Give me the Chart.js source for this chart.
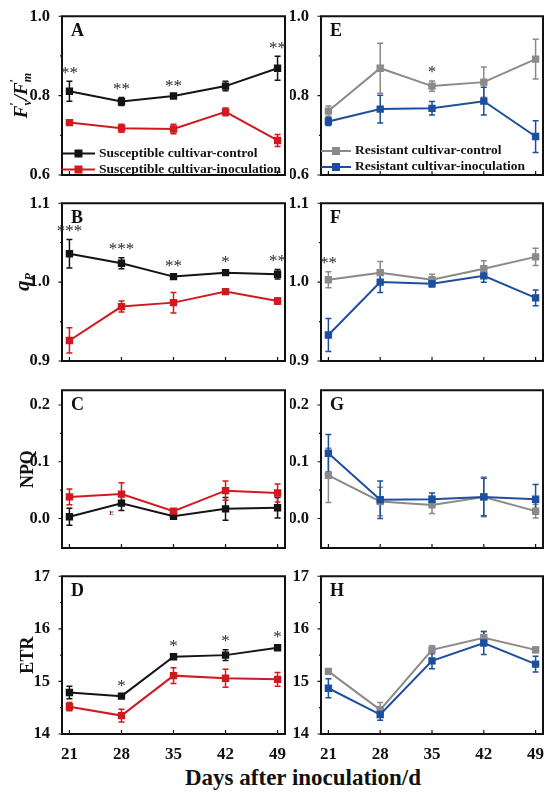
<!DOCTYPE html>
<html>
<head>
<meta charset="utf-8">
<script src="https://cdn.jsdelivr.net/npm/chart.js@4.4.0/dist/chart.umd.min.js"></script>
<style>
body { margin: 0; background: #fff; width: 550px; height: 797px; position: relative; overflow: hidden; }
.p { position: absolute; }
#xt { position: absolute; left: 103px; width: 400px; top: 765px; text-align: center;
      font: bold 23px "Liberation Serif", serif; color: #111; }
</style>
</head>
<body>
<div class="p" style="left:0;top:4px;width:292px;height:191px"><canvas id="cA"></canvas></div>
<div class="p" style="left:290px;top:4px;width:260px;height:191px"><canvas id="cE"></canvas></div>
<div class="p" style="left:0;top:191px;width:292px;height:190px"><canvas id="cB"></canvas></div>
<div class="p" style="left:290px;top:191px;width:260px;height:190px"><canvas id="cF"></canvas></div>
<div class="p" style="left:0;top:378px;width:292px;height:190px"><canvas id="cC"></canvas></div>
<div class="p" style="left:290px;top:378px;width:260px;height:190px"><canvas id="cG"></canvas></div>
<div class="p" style="left:0;top:564px;width:292px;height:200px"><canvas id="cD"></canvas></div>
<div class="p" style="left:290px;top:564px;width:260px;height:200px"><canvas id="cH"></canvas></div>
<div id="xt">Days after inoculation/d</div>
<script>
const days = [21, 28, 35, 42, 49];

// Fv'/Fm'
const fvSusCtrl = [0.811, 0.785, 0.799, 0.824, 0.869];
const fvSusCtrlErr = [0.025, 0.010, 0.004, 0.012, 0.030];
const fvSusInoc = [0.732, 0.718, 0.716, 0.759, 0.687];
const fvSusInocErr = [0.005, 0.010, 0.012, 0.010, 0.015];
const fvResCtrl = [0.761, 0.869, 0.824, 0.834, 0.892];
const fvResCtrlErr = [0.013, 0.063, 0.013, 0.038, 0.050];
const fvResInoc = [0.735, 0.766, 0.768, 0.786, 0.697];
const fvResInocErr = [0.010, 0.035, 0.017, 0.035, 0.040];
const fvSusSig = ['**', '**', '**', '', '**'];
const fvResSig = ['', '', '*', '', ''];

// qP
const qpSusCtrl = [1.036, 1.024, 1.007, 1.012, 1.010];
const qpSusCtrlErr = [0.018, 0.007, 0.003, 0.003, 0.006];
const qpSusInoc = [0.926, 0.969, 0.974, 0.988, 0.976];
const qpSusInocErr = [0.016, 0.007, 0.013, 0.003, 0.004];
const qpResCtrl = [1.003, 1.012, 1.003, 1.017, 1.032];
const qpResCtrlErr = [0.010, 0.014, 0.007, 0.010, 0.011];
const qpResInoc = [0.933, 1.000, 0.998, 1.008, 0.980];
const qpResInocErr = [0.021, 0.013, 0.004, 0.008, 0.010];
const qpSusSig = ['***', '***', '**', '*', '**'];
const qpResSig = ['**', '', '', '', ''];

// NPQ
const npqSusCtrl = [0.003, 0.027, 0.004, 0.017, 0.019];
const npqSusCtrlErr = [0.015, 0.013, 0.003, 0.020, 0.018];
const npqSusInoc = [0.038, 0.043, 0.013, 0.049, 0.045];
const npqSusInocErr = [0.014, 0.020, 0.004, 0.017, 0.016];
const npqResCtrl = [0.076, 0.030, 0.024, 0.038, 0.013];
const npqResCtrlErr = [0.048, 0.025, 0.015, 0.035, 0.012];
const npqResInoc = [0.115, 0.033, 0.034, 0.038, 0.034];
const npqResInocErr = [0.033, 0.033, 0.011, 0.033, 0.026];

// ETR
const etrSusCtrl = [14.79, 14.72, 15.47, 15.50, 15.64];
const etrSusCtrlErr = [0.12, 0.03, 0.05, 0.10, 0.04];
const etrSusInoc = [14.52, 14.35, 15.11, 15.06, 15.04];
const etrSusInocErr = [0.08, 0.12, 0.15, 0.17, 0.13];
const etrResCtrl = [15.19, 14.46, 15.60, 15.83, 15.60];
const etrResCtrlErr = [0.03, 0.14, 0.08, 0.12, 0.05];
const etrResInoc = [14.87, 14.37, 15.39, 15.73, 15.33];
const etrResInocErr = [0.18, 0.11, 0.15, 0.22, 0.15];
const etrSusSig = ['', '*', '*', '*', '*'];

const fvTicks = [0.6, 0.8, 1.0], fvMinor = [0.7, 0.9];
const qpTicks = [0.9, 1.0, 1.1], qpMinor = [0.95, 1.05];
const npqTicks = [0.0, 0.1, 0.2], npqMinor = [0.05, 0.15];
const etrTicks = [14, 15, 16, 17], etrMinor = [14.5, 15.5, 16.5];

const BLACK = '#141414', RED = '#d01a1f', GRAY = '#8a8a8a', BLUE = '#1c4f9f';
const SERIF = '"Liberation Serif", "Times New Roman", serif';

const deco = {
    id: 'deco',
    beforeDatasetsDraw(chart) {
        const ctx = chart.ctx, ys = chart.scales.y;
        ctx.save();
        chart.data.datasets.forEach((ds, i) => {
            const meta = chart.getDatasetMeta(i);
            ctx.strokeStyle = ds.borderColor;
            ctx.lineWidth = 1.5;
            meta.data.forEach((pt, j) => {
                const v = ds.data[j].y, e = ds.err[j];
                const y1 = ys.getPixelForValue(v + e), y2 = ys.getPixelForValue(v - e);
                ctx.beginPath();
                ctx.moveTo(pt.x, y1); ctx.lineTo(pt.x, y2);
                ctx.moveTo(pt.x - 3, y1); ctx.lineTo(pt.x + 3, y1);
                ctx.moveTo(pt.x - 3, y2); ctx.lineTo(pt.x + 3, y2);
                ctx.stroke();
            });
        });
        ctx.restore();
    },
    afterDraw(chart, args, o) {
        const ctx = chart.ctx, a = chart.chartArea, xs = chart.scales.x, ys = chart.scales.y;
        ctx.save();
        // frame
        ctx.strokeStyle = '#111';
        ctx.lineWidth = 2;
        ctx.strokeRect(a.left, a.top, a.right - a.left, a.bottom - a.top);
        // ticks: x inward, y outward
        ctx.lineWidth = 1.2;
        ctx.beginPath();
        days.forEach(d => {
            const x = xs.getPixelForValue(d);
            ctx.moveTo(x, a.bottom); ctx.lineTo(x, a.bottom - 4);
        });
        o.major.forEach(v => {
            const y = ys.getPixelForValue(v);
            ctx.moveTo(a.left, y); ctx.lineTo(a.left - 3.5, y);
        });
        o.minor.forEach(v => {
            const y = ys.getPixelForValue(v);
            ctx.moveTo(a.left, y); ctx.lineTo(a.left - 2, y);
        });
        ctx.stroke();
        // panel letter
        ctx.fillStyle = '#111';
        ctx.font = 'bold 18px ' + SERIF;
        ctx.textBaseline = 'middle';
        ctx.textAlign = 'left';
        ctx.fillText(o.letter, a.left + 9, a.top + 15);
        // significance marks
        if (o.sig) {
            ctx.font = '17px ' + SERIF;
            ctx.fillStyle = '#2a2a3a';
            ctx.textAlign = 'center';
            o.sig.forEach((s, j) => {
                if (!s) return;
                let top = -Infinity;
                chart.data.datasets.forEach(ds => { top = Math.max(top, ds.data[j].y + ds.err[j]); });
                ctx.fillText(s, xs.getPixelForValue(days[j]), ys.getPixelForValue(top) - 8);
            });
        }
        // legend
        if (o.legend) {
            ctx.font = 'bold 13.5px ' + SERIF;
            ctx.textAlign = 'left';
            chart.data.datasets.forEach((ds, i) => {
                const y = o.legend.y + i * 16;
                ctx.strokeStyle = ds.borderColor;
                ctx.fillStyle = ds.borderColor;
                ctx.lineWidth = 2;
                ctx.beginPath();
                ctx.moveTo(a.left, y); ctx.lineTo(a.left + o.legend.len, y);
                ctx.stroke();
                ctx.fillRect(a.left + o.legend.len / 2 - 4, y - 4, 8, 8);
                ctx.fillStyle = '#111';
                ctx.fillText(ds.label, a.left + o.legend.len + 4, y);
            });
        }
        // stray mark in panel C
        if (o.mark) {
            ctx.font = 'bold 7px ' + SERIF;
            ctx.fillStyle = '#6a2a20';
            ctx.textAlign = 'center';
            ctx.fillText(o.mark, xs.getPixelForValue(days[1]) - 10, ys.getPixelForValue(0.01));
        }
        // y title
        if (o.ytitle) {
            const cy = (a.top + a.bottom) / 2;
            ctx.translate(o.ytitle.x, cy);
            ctx.rotate(-Math.PI / 2);
            ctx.fillStyle = '#111';
            ctx.textBaseline = 'alphabetic';
            ctx.textAlign = 'left';
            const parts = o.ytitle.parts;
            let w = 0;
            parts.forEach(p => { ctx.font = p.f; p.w = ctx.measureText(p.t).width; if (!p.stack) w += p.w; });
            let x = -w / 2;
            parts.forEach(p => {
                ctx.font = p.f;
                ctx.fillText(p.t, x, p.dy || 0);
                if (!p.stack) x += p.w;
            });
        }
        ctx.restore();
    }
};

function series(vals, errs, label, color, order) {
    return {
        label: label,
        data: days.map((d, i) => ({ x: d, y: vals[i] })),
        err: errs,
        borderColor: color,
        backgroundColor: color,
        pointBackgroundColor: color,
        pointBorderColor: color,
        pointStyle: 'rect',
        pointRadius: 3.8,
        borderWidth: 2,
        tension: 0,
        order: order,
        clip: false
    };
}

function panel(id, left, datasets, y, deco, bottomRow) {
    new Chart(document.getElementById(id), {
        type: 'line',
        data: { datasets: datasets },
        plugins: [deco],
        options: {
            responsive: true,
            maintainAspectRatio: false,
            animation: false,
            layout: { padding: { top: 10, right: 7, left: 0, bottom: 0 } },
            plugins: { legend: { display: false }, tooltip: { enabled: false }, deco: y.deco },
            scales: {
                x: {
                    type: 'linear', min: 20, max: 50,
                    grid: { display: false }, border: { display: false },
                    afterBuildTicks: s => { s.ticks = days.map(v => ({ value: v })); },
                    afterFit: s => { s.height = bottomRow ? 30 : 20; },
                    ticks: {
                        display: bottomRow, autoSkip: false, maxRotation: 0, padding: 4, color: '#111',
                        font: { family: SERIF, weight: 'bold', size: 17, lineHeight: 1 }
                    }
                },
                y: {
                    min: y.min, max: y.max,
                    grid: { display: false }, border: { display: false },
                    afterBuildTicks: s => { s.ticks = y.major.map(v => ({ value: v })); },
                    afterFit: s => { s.width = left ? 62 : 31; },
                    ticks: {
                        autoSkip: false, padding: 4, color: '#111',
                        font: { family: SERIF, weight: 'bold', size: 16.5, lineHeight: 1 },
                        callback: v => v.toFixed(y.dec)
                    }
                }
            }
        }
    });
}

const ITF = 'italic bold 19px ' + SERIF, PR = 'bold 12px ' + SERIF, SUB = 'italic bold 12px ' + SERIF;
const fvTitle = { x: 27, parts: [
    { t: 'F', f: ITF }, { t: '\u2032', f: PR, dy: -9, stack: true }, { t: 'v', f: SUB, dy: 4 },
    { t: '/', f: ITF }, { t: 'F', f: ITF }, { t: '\u2032', f: PR, dy: -9, stack: true }, { t: 'm', f: SUB, dy: 4 }] };
const qpTitle = { x: 29, parts: [ { t: 'q', f: 'italic bold 21px ' + SERIF }, { t: 'P', f: 'italic bold 12px ' + SERIF, dy: 4 } ] };
const npqTitle = { x: 33, parts: [ { t: 'NPQ', f: 'bold 18px ' + SERIF } ] };
const etrTitle = { x: 33, parts: [ { t: 'ETR', f: 'bold 18px ' + SERIF } ] };

const susC = 'Susceptible cultivar-control', susI = 'Susceptible cultivar-inoculation';
const resC = 'Resistant cultivar-control', resI = 'Resistant cultivar-inoculation';

panel('cA', true, [series(fvSusCtrl, fvSusCtrlErr, susC, BLACK, 2), series(fvSusInoc, fvSusInocErr, susI, RED, 1)],
    { min: 0.6, max: 1.0, major: fvTicks, dec: 1,
      deco: { letter: 'A', major: fvTicks, minor: fvMinor, sig: fvSusSig, legend: { y: 149.5, len: 33 }, ytitle: fvTitle } }, deco, false);
panel('cE', false, [series(fvResCtrl, fvResCtrlErr, resC, GRAY, 2), series(fvResInoc, fvResInocErr, resI, BLUE, 1)],
    { min: 0.6, max: 1.0, major: fvTicks, dec: 1,
      deco: { letter: 'E', major: fvTicks, minor: fvMinor, sig: fvResSig, legend: { y: 147, len: 30 } } }, deco, false);
panel('cB', true, [series(qpSusCtrl, qpSusCtrlErr, susC, BLACK, 2), series(qpSusInoc, qpSusInocErr, susI, RED, 1)],
    { min: 0.9, max: 1.1, major: qpTicks, dec: 1,
      deco: { letter: 'B', major: qpTicks, minor: qpMinor, sig: qpSusSig, ytitle: qpTitle } }, deco, false);
panel('cF', false, [series(qpResCtrl, qpResCtrlErr, resC, GRAY, 2), series(qpResInoc, qpResInocErr, resI, BLUE, 1)],
    { min: 0.9, max: 1.1, major: qpTicks, dec: 1,
      deco: { letter: 'F', major: qpTicks, minor: qpMinor, sig: qpResSig } }, deco, false);
panel('cC', true, [series(npqSusCtrl, npqSusCtrlErr, susC, BLACK, 2), series(npqSusInoc, npqSusInocErr, susI, RED, 1)],
    { min: -0.052, max: 0.226, major: npqTicks, dec: 1,
      deco: { letter: 'C', major: npqTicks, minor: npqMinor, ytitle: npqTitle, mark: 'E' } }, deco, false);
panel('cG', false, [series(npqResCtrl, npqResCtrlErr, resC, GRAY, 2), series(npqResInoc, npqResInocErr, resI, BLUE, 1)],
    { min: -0.052, max: 0.226, major: npqTicks, dec: 1,
      deco: { letter: 'G', major: npqTicks, minor: npqMinor } }, deco, false);
panel('cD', true, [series(etrSusCtrl, etrSusCtrlErr, susC, BLACK, 2), series(etrSusInoc, etrSusInocErr, susI, RED, 1)],
    { min: 14, max: 17, major: etrTicks, dec: 0,
      deco: { letter: 'D', major: etrTicks, minor: etrMinor, sig: etrSusSig, ytitle: etrTitle } }, deco, true);
panel('cH', false, [series(etrResCtrl, etrResCtrlErr, resC, GRAY, 2), series(etrResInoc, etrResInocErr, resI, BLUE, 1)],
    { min: 14, max: 17, major: etrTicks, dec: 0,
      deco: { letter: 'H', major: etrTicks, minor: etrMinor } }, deco, true);
</script>
</body>
</html>
